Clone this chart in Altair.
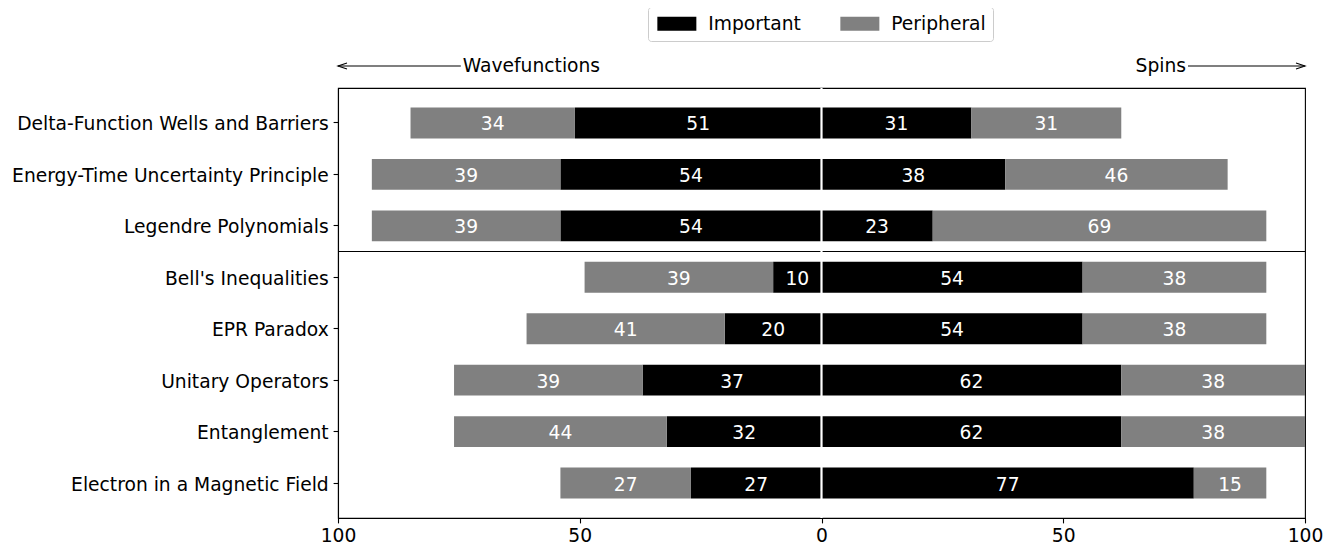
import altair as alt
import pandas as pd

# ---------------- data ----------------
topics = [
    "Delta-Function Wells and Barriers",
    "Energy-Time Uncertainty Principle",
    "Legendre Polynomials",
    "Bell's Inequalities",
    "EPR Paradox",
    "Unitary Operators",
    "Entanglement",
    "Electron in a Magnetic Field",
]
wave_important = [51, 54, 54, 10, 20, 37, 32, 27]
wave_peripheral = [34, 39, 39, 39, 41, 39, 44, 27]
spin_important = [31, 38, 23, 54, 54, 62, 62, 77]
spin_peripheral = [31, 46, 69, 38, 38, 38, 38, 15]
categories = ["Important", "Peripheral"]
colors = ["#000000", "#808080"]
x_ticks = [-100, -50, 0, 50, 100]
separator_after = ["Legendre Polynomials"]
side_labels = ["Wavefunctions", "Spins"]
side_label_x = [-74.2, 75.4]
arrow_start = [-100, 75.8]
arrow_end = [-74.6, 100]

# ---------------- build tables ----------------
rows = []
for t, li, lp, ri, rp in zip(topics, wave_important, wave_peripheral,
                             spin_important, spin_peripheral):
    segs = [
        ("Important", 0, -li, li),
        ("Peripheral", -li, -li - lp, lp),
        ("Important", 0, ri, ri),
        ("Peripheral", ri, ri + rp, rp),
    ]
    for typ, a, b, v in segs:
        rows.append(dict(topic=t, type=typ, x0=a, x1=b, mid=(a + b) / 2, value=v))
df = pd.DataFrame(rows)

FONT = "DejaVu Sans"
FS = 18.7
W, H = 967, 430
STEP = H / (len(topics) - 0.4 + 2 * 0.38)

yscale = alt.Scale(domain=topics, paddingInner=0.4, paddingOuter=0.38)
xscale = alt.Scale(domain=[-100, 100], nice=False, zero=False)

y_enc = alt.Y("topic:N", scale=yscale, sort=topics,
              axis=alt.Axis(title=None, labelLimit=0, labelPadding=4.9,
                            tickSize=4.9, labelFontSize=FS, labelOffset=1.5))

bars = alt.Chart(df).mark_bar(strokeWidth=0).encode(
    y=y_enc,
    x=alt.X("x0:Q", scale=xscale,
            axis=alt.Axis(title=None, values=x_ticks, labelExpr="abs(datum.value)",
                          tickSize=4.9, labelPadding=3.5, labelFontSize=FS,
                          labelFlush=False, labelOverlap=False)),
    x2="x1:Q",
    color=alt.Color(
        "type:N",
        scale=alt.Scale(domain=categories, range=colors),
        legend=alt.Legend(
            title=None, orient="none", legendX=310, legendY=-81,
            direction="horizontal",
            symbolType="M-2.786,-1H2.786V1H-2.786Z", symbolSize=196,
            symbolOffset=12.5,
            symbolStrokeWidth=0, labelFont=FONT, labelFontSize=FS,
            labelColor="black", labelOffset=22, columnPadding=37,
            padding=7, strokeColor="#cccccc", cornerRadius=3,
            fillColor="white",
        ),
    ),
)

labels = alt.Chart(df).mark_text(
    color="white", font=FONT, fontSize=FS, align="center", baseline="middle", dy=1.5
).encode(y=alt.Y("topic:N", scale=yscale, sort=topics), x=alt.X("mid:Q", scale=xscale),
         text="value:Q")

sep = alt.Chart(pd.DataFrame({"topic": separator_after})).mark_rule(
    color="black", strokeWidth=1.1, yOffset=STEP / 2
).encode(y=alt.Y("topic:N", scale=yscale, sort=topics))

zero = alt.Chart(pd.DataFrame({"x": [0]})).mark_rule(
    color="white", strokeWidth=2.2
).encode(x=alt.X("x:Q", scale=xscale))

arr = pd.DataFrame({"a": arrow_start, "b": arrow_end})
arrow_lines = alt.Chart(arr).mark_rule(color="black", strokeWidth=1.1).encode(
    x=alt.X("a:Q", scale=xscale), x2="b:Q", y=alt.value(-22)
)
heads = pd.DataFrame({"x": [-100, 100]})
head_l = alt.Chart(heads.iloc[[0]]).mark_point(
    shape="M2,-0.65L0,0L2,0.65", size=81, filled=False, color="black",
    strokeWidth=1.1, opacity=1
).encode(x=alt.X("x:Q", scale=xscale), y=alt.value(-22))
head_r = alt.Chart(heads.iloc[[1]]).mark_point(
    shape="M-2,-0.65L0,0L-2,0.65", size=81, filled=False, color="black",
    strokeWidth=1.1, opacity=1
).encode(x=alt.X("x:Q", scale=xscale), y=alt.value(-22))

side = pd.DataFrame({"x": side_label_x, "t": side_labels})
txt_l = alt.Chart(side.iloc[[0]]).mark_text(
    font=FONT, fontSize=FS, align="left", baseline="middle", color="black"
).encode(x=alt.X("x:Q", scale=xscale), y=alt.value(-22), text="t:N")
txt_r = alt.Chart(side.iloc[[1]]).mark_text(
    font=FONT, fontSize=FS, align="right", baseline="middle", color="black"
).encode(x=alt.X("x:Q", scale=xscale), y=alt.value(-22), text="t:N")

chart = alt.layer(
    bars, sep, zero, labels, arrow_lines, head_l, head_r, txt_l, txt_r
).properties(
    width=W, height=H,
    autosize=alt.AutoSizeParams(type="none"),
    padding={"left": 330, "top": 80, "right": 22, "bottom": 30},
).configure_view(
    stroke="black", strokeWidth=1.1
).configure_axis(
    labelFont=FONT, labelColor="black", tickColor="black", domainColor="black",
    grid=False, tickWidth=1.1, domainWidth=1.1
).configure_text(font=FONT)

chart.save("out.html", embed_options={"renderer": "svg", "actions": False})
